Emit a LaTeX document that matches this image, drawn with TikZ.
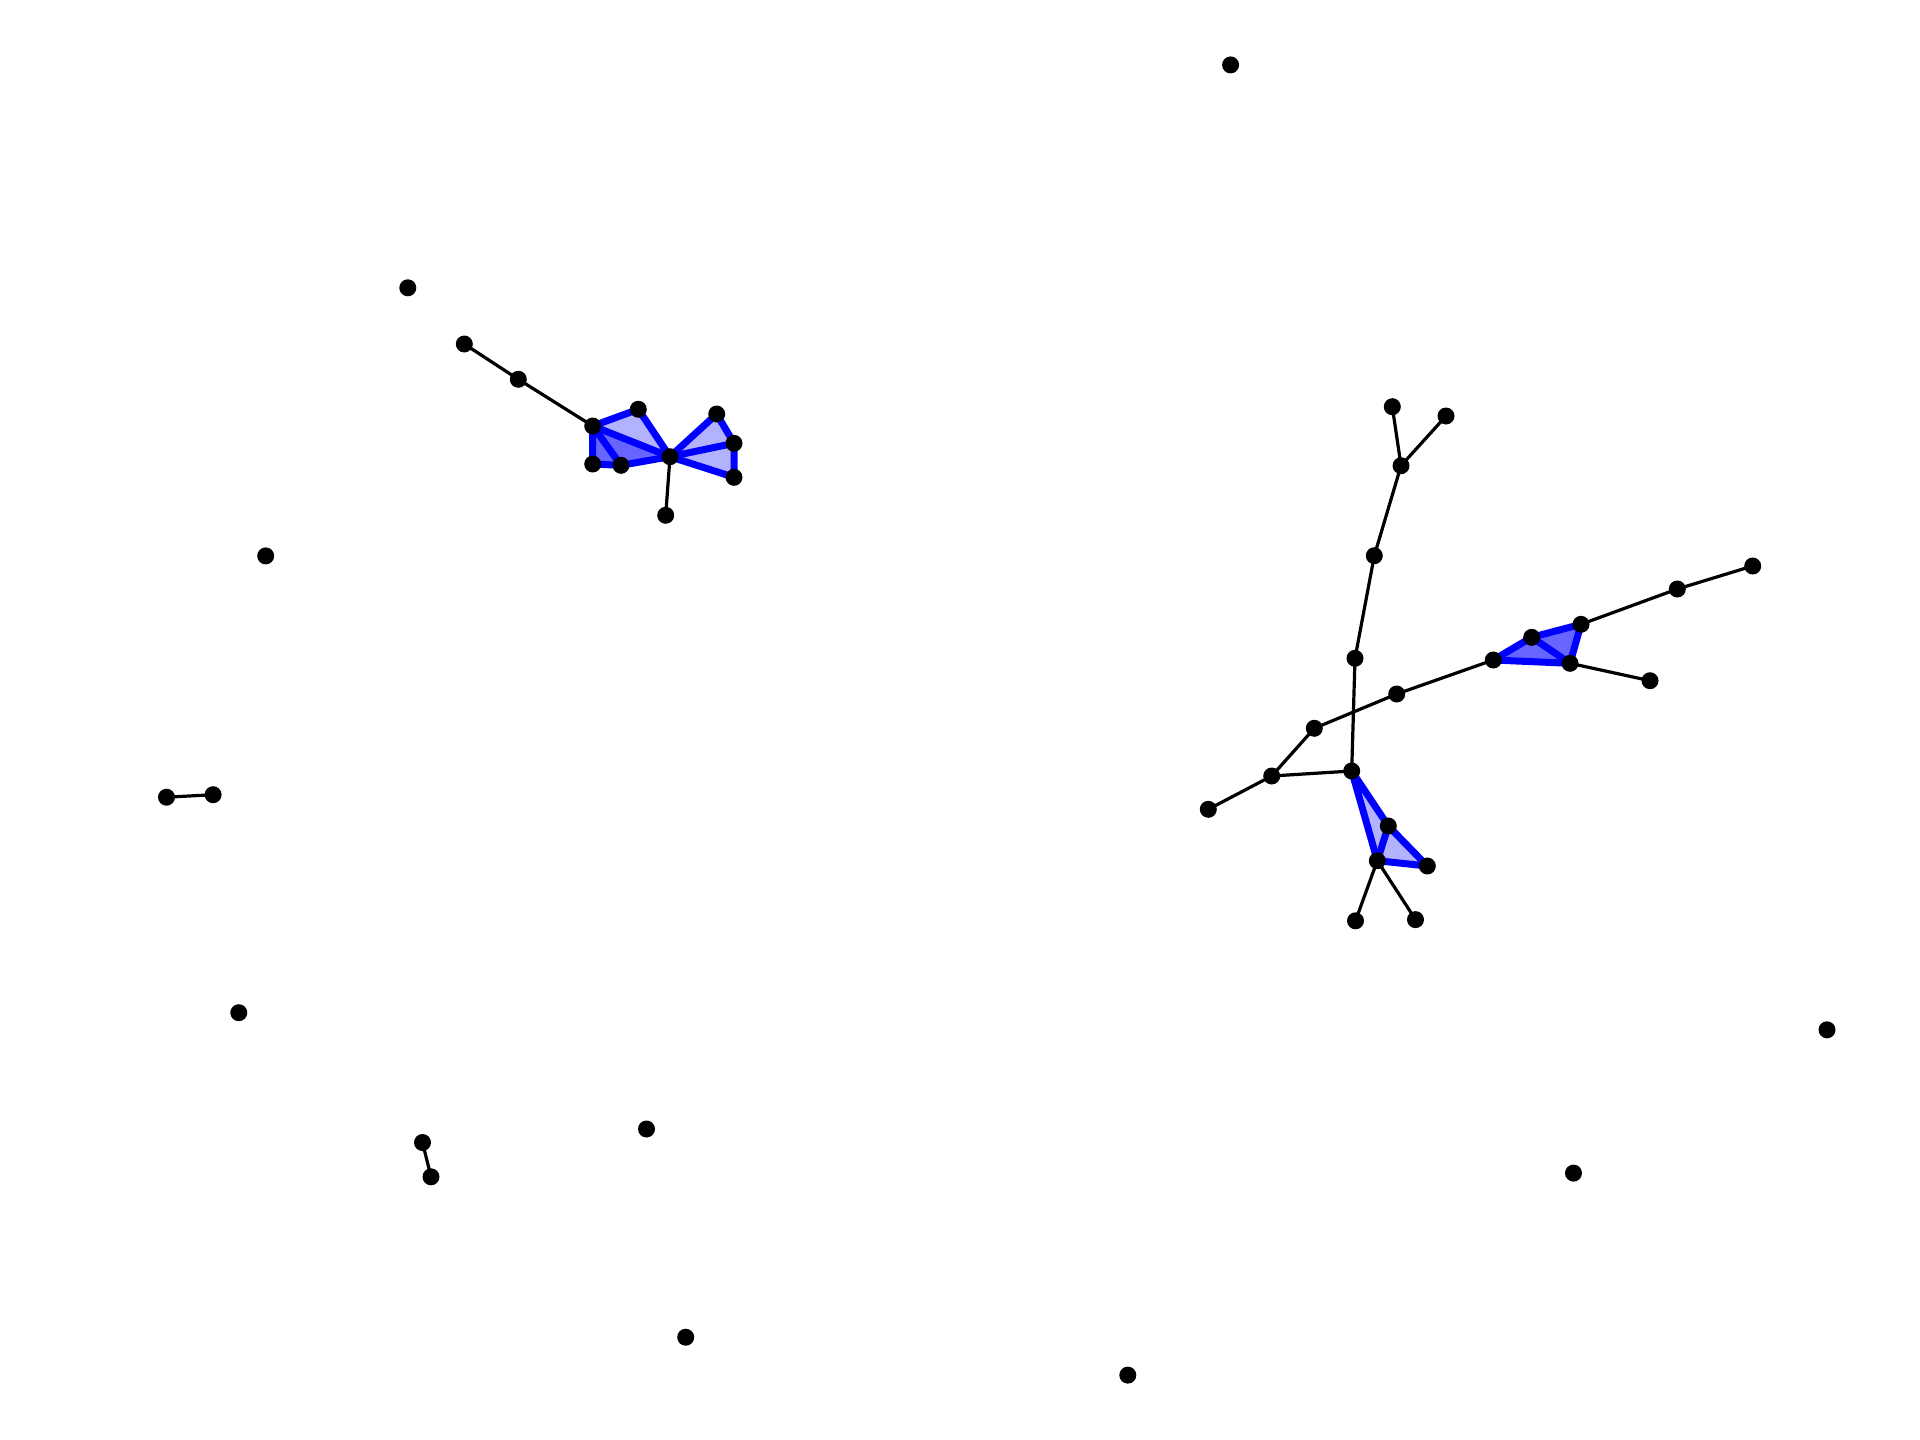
\documentclass[tikz,border=0pt]{standalone}
\pgfdeclarelayer{paper}
\pgfdeclarelayer{bg}
\pgfsetlayers{paper,bg,main}
\begin{document}
\begin{tikzpicture}[x=1pt,y=-1pt,
  dot/.style={circle,fill=black,inner sep=0pt,minimum size=17pt},
  edge/.style={black,line width=3.2pt},
  bedge/.style={blue,line width=7pt,line join=round,line cap=round},
  tri/.style={fill=blue,fill opacity=0.3},
  tridark/.style={fill=blue,fill opacity=0.6}]
\begin{pgfonlayer}{paper}
\useasboundingbox[fill=white] (0,0) rectangle (1920,1440);
\end{pgfonlayer}
% isolated
\node[dot] (i1) at (1230.6,64.9) {};
\node[dot] (i2) at (407.8,287.8) {};
\node[dot] (i3) at (265.7,555.9) {};
\node[dot] (i4) at (238.8,1012.7) {};
\node[dot] (i5) at (646.5,1129) {};
\node[dot] (i6) at (685.7,1337.2) {};
\node[dot] (i7) at (1127.8,1375.1) {};
\node[dot] (i8) at (1573.5,1173.1) {};
\node[dot] (i9) at (1827,1029.8) {};
% pairs
\node[dot] (p1) at (166.5,797.2) {};
\node[dot] (p2) at (213.1,794.7) {};
\node[dot] (q1) at (422.5,1142.5) {};
\node[dot] (q2) at (431,1176.8) {};
% left cluster
\node[dot] (l1) at (464.3,344) {};
\node[dot] (l2) at (518.3,379.3) {};
\node[dot] (A) at (592.7,426) {};
\node[dot] (B) at (638.3,409.3) {};
\node[dot] (C) at (592.7,464) {};
\node[dot] (D) at (621,465.3) {};
\node[dot] (E) at (670,456.7) {};
\node[dot] (F) at (716.7,414) {};
\node[dot] (G) at (734,443.3) {};
\node[dot] (H) at (734,477.3) {};
\node[dot] (I) at (665.7,515.3) {};
% right cluster
\node[dot] (r1) at (1392.3,406.7) {};
\node[dot] (r2) at (1446,416) {};
\node[dot] (r3) at (1401,465.7) {};
\node[dot] (r4) at (1374.3,555.7) {};
\node[dot] (r5) at (1355,658.3) {};
\node[dot] (r6) at (1396.7,694) {};
\node[dot] (r7) at (1314.3,728.3) {};
\node[dot] (r8) at (1271.7,776) {};
\node[dot] (r9) at (1208.3,809.3) {};
\node[dot] (U) at (1351.7,771) {};
\node[dot] (V) at (1388.3,826) {};
\node[dot] (W) at (1377.3,860.7) {};
\node[dot] (X) at (1427.3,866) {};
\node[dot] (w1) at (1355.5,920.8) {};
\node[dot] (w2) at (1415.5,919.6) {};
\node[dot] (P) at (1493.3,660) {};
\node[dot] (Q) at (1531.7,637.3) {};
\node[dot] (R) at (1581,624.3) {};
\node[dot] (S) at (1570,663.3) {};
\node[dot] (T) at (1650,680.7) {};
\node[dot] (t1) at (1677.3,589) {};
\node[dot] (t2) at (1752.7,566) {};
\begin{pgfonlayer}{bg}
% fills
\fill[tri] (A.center) -- (B.center) -- (E.center) -- cycle;
\fill[tridark] (A.center) -- (C.center) -- (D.center) -- cycle;
\fill[tridark] (A.center) -- (D.center) -- (E.center) -- cycle;
\fill[tri] (E.center) -- (F.center) -- (G.center) -- cycle;
\fill[tri] (E.center) -- (G.center) -- (H.center) -- cycle;
\fill[tridark] (P.center) -- (Q.center) -- (S.center) -- cycle;
\fill[tridark] (Q.center) -- (R.center) -- (S.center) -- cycle;
\fill[tri] (U.center) -- (V.center) -- (W.center) -- cycle;
\fill[tri] (V.center) -- (X.center) -- (W.center) -- cycle;
% blue edges
\draw[bedge] (A.center) -- (B.center) -- (E.center) -- (A.center);
\draw[bedge] (A.center) -- (C.center) -- (D.center) -- (E.center);
\draw[bedge] (A.center) -- (D.center);
\draw[bedge] (E.center) -- (F.center) -- (G.center) -- (H.center) -- (E.center);
\draw[bedge] (E.center) -- (G.center);
\draw[bedge] (P.center) -- (Q.center) -- (R.center) -- (S.center) -- (P.center);
\draw[bedge] (Q.center) -- (S.center);
\draw[bedge] (U.center) -- (V.center) -- (X.center) -- (W.center) -- (U.center);
\draw[bedge] (V.center) -- (W.center);
% black edges
\draw[edge] (p1.center) -- (p2.center);
\draw[edge] (q1.center) -- (q2.center);
\draw[edge] (l1.center) -- (l2.center);
\draw[edge] (l2.center) -- (A.center);
\draw[edge] (E.center) -- (I.center);
\draw[edge] (r1.center) -- (r3.center);
\draw[edge] (r2.center) -- (r3.center);
\draw[edge] (r3.center) -- (r4.center);
\draw[edge] (r4.center) -- (r5.center);
\draw[edge] (r5.center) -- (U.center);
\draw[edge] (U.center) -- (r8.center);
\draw[edge] (r8.center) -- (r9.center);
\draw[edge] (r8.center) -- (r7.center);
\draw[edge] (r7.center) -- (r6.center);
\draw[edge] (r6.center) -- (P.center);
\draw[edge] (R.center) -- (t1.center);
\draw[edge] (t1.center) -- (t2.center);
\draw[edge] (S.center) -- (T.center);
\draw[edge] (W.center) -- (w1.center);
\draw[edge] (W.center) -- (w2.center);
\end{pgfonlayer}
\end{tikzpicture}
\end{document}
